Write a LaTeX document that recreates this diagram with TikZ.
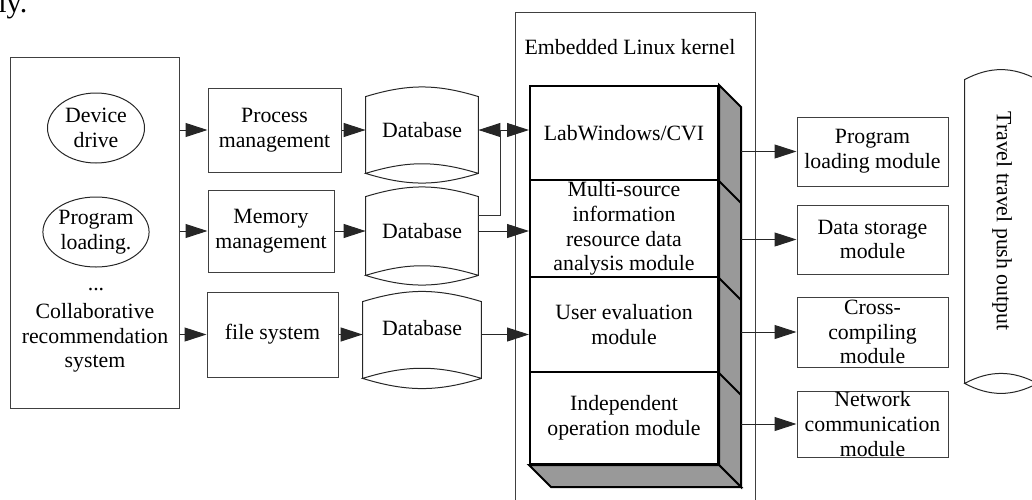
\documentclass[tikz,border=0pt]{standalone}
\usepackage{fontspec}
\setmainfont{Liberation Serif}
\usetikzlibrary{shapes.geometric,arrows.meta,calc}
\newcommand\dbshape[2]{\draw[dbline] (#1.south west) -- (#1.north west) to[bend left=#2] (#1.north east) -- (#1.south east) to[bend left=#2] (#1.south west) to[bend left=#2] (#1.south east);}
\begin{document}
\begin{tikzpicture}[x=0.5pt,y=-0.5pt,
  every node/.style={font=\fontsize{10.9pt}{12.3pt}\selectfont, inner sep=0pt, align=center},
  ln/.style={draw=black!80, line width=0.5pt},
  dbline/.style={draw=black!85, line width=0.5pt},
  box/.style={rectangle, draw=black!75, line width=0.5pt},
  ell/.style={ellipse, draw=black!85, line width=0.5pt, minimum width=48.5pt, minimum height=35pt},
  stk/.style={rectangle, draw=black, line width=1pt, fill=white, minimum width=94pt},
  face/.style={draw=black, line width=1pt, fill=black!40, line join=miter},
  arr/.style={draw=black!85, line width=0.5pt, -{Triangle[length=11pt,width=7pt]}}]
\useasboundingbox (0,0) rectangle (1032,499);

\node[font=\fontsize{15pt}{18pt}\selectfont, anchor=base west] (frag) at (-2,12) {ly.};

% left container
\node[box, minimum width=84.5pt, minimum height=175.5pt] (sys) at (94.5,232.5) {};
\node[ell] (dev) at (96,128) {Device\\drive};
\node[ell] (prog) at (96,232) {Program\\loading.};
\node (dots) at (96,290) {...};
\node (collab) at (95,338) {Collaborative\\recommendation\\system};

% management boxes
\node[box, minimum width=66.5pt, minimum height=42pt] (proc) at (274.5,130) {Process\\management};
\node[box, minimum width=63pt, minimum height=41pt] (mem) at (271,231) {Memory\\management};
\node[box, minimum width=65.5pt, minimum height=42.5pt] (fs) at (272.5,334.5) {file system};

% databases
\node[minimum width=56pt, minimum height=38pt, text depth=5.5pt] (db1) at (422,135) {Database};
\node[minimum width=56pt, minimum height=39pt, text depth=5pt] (db2) at (422,236) {Database};
\node[minimum width=59pt, minimum height=38pt, text depth=12.5pt] (db3) at (422,340) {Database};
\dbshape{db1}{17}
\dbshape{db2}{17}
\dbshape{db3}{17}

% kernel
\node[box, minimum width=120pt, minimum height=258pt] (kernel) at (635,270) {};
\node (ktitle) at (630,47) {Embedded Linux kernel};

% stack
\node[stk, minimum height=47pt] (lab) at (624,133) {LabWindows/CVI};
\node[stk, minimum height=48.5pt] (multi) at (624,228.5) {Multi-source\\information\\resource data\\analysis module};
\node[stk, minimum height=47.5pt] (user) at (624,324.5) {User evaluation\\module};
\node[stk, minimum height=46pt] (indep) at (624,418) {Independent\\operation module};
\draw[face] (lab.north east) -- ++(22,22) -- ($(indep.south east)+(22,22)$) -- (indep.south east) -- cycle;
\draw[face] (indep.south west) -- ++(22,22) -- ($(indep.south east)+(22,22)$) -- (indep.south east) -- cycle;
\draw[line width=1pt] (lab.south east) -- ++(22,22);
\draw[line width=1pt] (multi.south east) -- ++(22,22);
\draw[line width=1pt] (user.south east) -- ++(22,22);
\coordinate (rf) at ($(lab.north east)+(22,22)$);

% right modules
\node[box, minimum width=75.5pt, minimum height=34.5pt] (plm) at (872.5,151.5) {Program\\loading module};
\node[box, minimum width=75.5pt, minimum height=34.5pt] (dsm) at (872.5,239.5) {Data storage\\module};
\node[box, minimum width=75.5pt, minimum height=35pt] (ccm) at (872.5,332) {Cross-\\compiling\\module};
\node[box, minimum width=75.5pt, minimum height=33pt] (ncm) at (872.5,424) {Network\\communication\\module};

% output cylinder
\node[minimum width=36pt, minimum height=151.5pt] (out) at (1001,231.5) {};
\dbshape{out}{28}
\node[rotate=-90] (outtxt) at (1002,221) {Travel travel push output};

% connectors
\draw[arr] (sys.east |- proc.west) -- (proc.west);
\draw[arr] (sys.east |- mem.west) -- (mem.west);
\draw[arr] (sys.east |- fs.west) -- (fs.west);
\draw[arr] (proc.east) -- (proc.east -| db1.west);
\draw[arr] (mem.east) -- (mem.east -| db2.west);
\draw[arr] (fs.east) -- (fs.east -| db3.west);
\coordinate (jn) at ($(db1.east |- proc.east)+(22,0)$);
\draw[arr] (jn) -- (jn -| lab.west);
\draw[arr] (jn) -- (jn -| db1.east);
\draw[ln] ($(db2.north east)+(0,19)$) -| (jn);
\draw[arr] (db2.east |- mem.east) -- (mem.east -| multi.west);
\draw[arr] (db3.east |- fs.east) -- (fs.east -| user.west);
\draw[arr] (rf |- plm.west) -- (plm.west);
\draw[arr] (rf |- dsm.west) -- (dsm.west);
\draw[arr] (rf |- ccm.west) -- (ccm.west);
\draw[arr] (rf |- ncm.west) -- (ncm.west);
\end{tikzpicture}
\end{document}
